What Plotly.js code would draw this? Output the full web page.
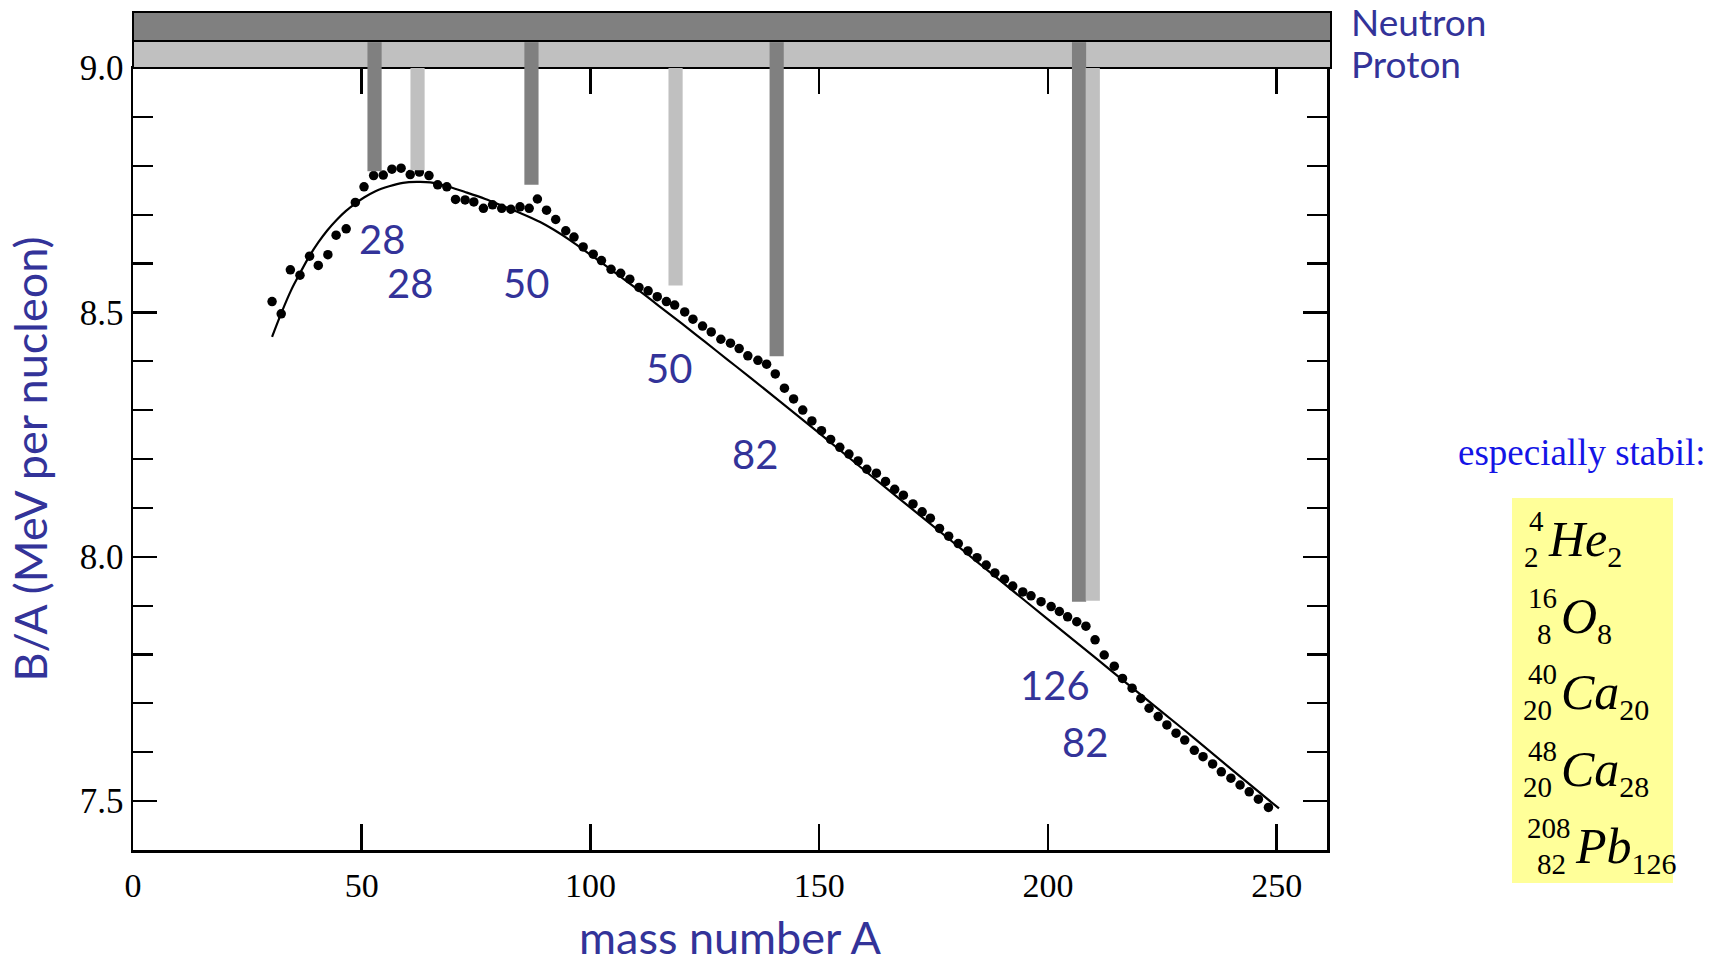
<!DOCTYPE html>
<html><head><meta charset="utf-8">
<script src="https://cdn.plot.ly/plotly-3.0.1.min.js"></script>
<style>html,body{margin:0;padding:0;background:#fff}#chart{width:1725px;height:964px}</style>
</head><body><div id="chart"></div>
<script>
// ---------------- data ----------------
const massNumber = [30.4,32.4,34.4,36.5,38.6,40.5,42.6,44.4,46.6,48.6,50.5,52.6,54.7,56.6,58.6,60.6,62.6,64.7,66.6,68.6,70.5,72.6,74.5,76.6,78.6,80.6,82.6,84.6,86.6,88.4,
  90.4,92.4,94.6,96.4,98.4,100.6,102.4,104.5,106.6,108.6,110.6,112.6,114.6,116.6,118.4,120.6,122.4,124.5,126.4,128.5,130.6,132.5,134.4,136.6,138.5,140.4,
  142.4,144.4,146.4,148.4,150.5,152.5,154.5,156.5,158.5,160.4,162.5,164.5,166.5,168.4,170.5,172.5,174.3,176.3,178.3,180.4,182.5,184.5,186.5,188.4,190.5,192.3,194.5,196.3,198.5,
  200.7,202.5,204.3,206.3,208.3,210.3,212.3,214.5,216.3,218.4,220.3,222.1,224.1,226.0,228.0,229.9,232.0,233.9,236.0,237.9,240.0,242.0,244.0,246.0,248.2];
const bindingPerNucleon = [8.522,8.497,8.587,8.576,8.615,8.596,8.618,8.658,8.671,8.725,8.757,8.780,8.781,8.793,8.795,8.782,8.787,8.780,8.761,8.757,8.731,8.730,8.726,8.713,8.720,8.713,8.711,8.716,8.713,8.732,
  8.709,8.690,8.667,8.654,8.634,8.619,8.606,8.588,8.580,8.568,8.551,8.544,8.532,8.522,8.515,8.501,8.486,8.472,8.460,8.445,8.437,8.426,8.411,8.402,8.394,8.374,
  8.345,8.323,8.300,8.278,8.258,8.240,8.224,8.210,8.196,8.179,8.171,8.154,8.138,8.126,8.108,8.092,8.079,8.058,8.042,8.027,8.012,7.998,7.983,7.967,7.954,7.940,7.928,7.920,7.908,
  7.898,7.888,7.877,7.867,7.858,7.830,7.799,7.776,7.751,7.731,7.710,7.690,7.673,7.656,7.639,7.625,7.604,7.591,7.576,7.560,7.547,7.533,7.519,7.504,7.487];

const fitMassNumber = [30.4,32.4,34.5,36.5,38.5,40.5,42.5,44.5,46.5,48.5,50.5,53,56,59,62,65,69,73,77,81,85,89,92,95.5,
  100,105,110,115,120,125,130,135,141.4,150,160,170,180,190,200,210,220,230,240,250.5];
const fitBindingPerNucleon = [8.450,8.498,8.544,8.580,8.614,8.643,8.668,8.689,8.707,8.722,8.735,8.748,8.758,8.765,8.767,8.766,8.757,8.745,8.732,8.717,8.702,8.685,8.669,8.648,
  8.618,8.584,8.549,8.513,8.477,8.440,8.403,8.366,8.318,8.253,8.176,8.100,8.024,7.948,7.872,7.796,7.720,7.644,7.566,7.485];

const neutronShellA = [52.8, 87.1, 140.7, 206.8];
const neutronShellBE = [8.789, 8.761, 8.410, 7.908];
const protonShellA = [62.2, 118.6, 209.8];
const protonShellBE = [8.791, 8.555, 7.910];

const magicNumberLabels = ['28','28','50','50','82','126','82'];
const magicLabelA = [54.5, 60.6, 85.9, 117.1, 135.9, 201.6, 208.2];
const magicLabelBE = [8.650, 8.560, 8.560, 8.386, 8.210, 7.737, 7.621];

const xTickValues = [0, 50, 100, 150, 200, 250];
const yTickValues = [7.5, 8.0, 8.5, 9.0];
const yTickLabels = ['7.5', '8.0', '8.5', '9.0'];

const nuclideElements = ['He', 'O', 'Ca', 'Ca', 'Pb'];
const nuclideMass = ['4', '16', '40', '48', '208'];
const nuclideProtons = ['2', '8', '20', '20', '82'];
const nuclideNeutrons = ['2', '8', '20', '28', '126'];

// ---------------- layout helpers ----------------
const W = 1725, H = 964;
const PL = 133, PR = 1327, PT = 68, PB = 850;
const px2x = px => (px - PL) / (PR - PL);
const px2y = py => (PB - py) / (PB - PT);
const BLUE = '#333399';
const DARK = '#808080', LIGHT = '#c0c0c0';
const barHalf = 1.55;
const bandMid = px2y(41), bandTop = px2y(12);

const shapes = [];
// Neutron / Proton bands
shapes.push({type:'rect', xref:'paper', yref:'paper', x0:0, x1:px2x(1331), y0:1, y1:bandMid,
  fillcolor:LIGHT, line:{color:'#000', width:2}, layer:'above'});
shapes.push({type:'rect', xref:'paper', yref:'paper', x0:0, x1:px2x(1331), y0:bandMid, y1:bandTop,
  fillcolor:DARK, line:{color:'#000', width:2}, layer:'above'});
// Shell closure bars
neutronShellA.forEach((a, i) => {
  shapes.push({type:'rect', xref:'x', yref:'y', x0:a-barHalf, x1:a+barHalf, y0:neutronShellBE[i], y1:9.0,
    fillcolor:DARK, line:{width:0}, layer:'above'});
  shapes.push({type:'rect', xref:'x', yref:'paper', x0:a-barHalf, x1:a+barHalf, y0:1, y1:bandMid-0.0015,
    fillcolor:DARK, line:{width:0}, layer:'above'});
});
protonShellA.forEach((a, i) => {
  shapes.push({type:'rect', xref:'x', yref:'y', x0:a-barHalf, x1:a+barHalf, y0:protonShellBE[i], y1:9.0,
    fillcolor:LIGHT, line:{width:0}, layer:'above'});
});
// yellow box
shapes.push({type:'rect', xref:'paper', yref:'paper', x0:px2x(1512), x1:px2x(1673), y0:px2y(883), y1:px2y(498),
  fillcolor:'#ffff99', line:{width:0}, layer:'below'});

const annotations = [];
magicNumberLabels.forEach((t, i) => {
  annotations.push({text:t, x:magicLabelA[i], y:magicLabelBE[i], xref:'x', yref:'y', showarrow:false,
    xanchor:'center', yanchor:'middle', font:{family:'Lato', size:40, color:BLUE}});
});
annotations.push({text:'Neutron', xref:'paper', yref:'paper', x:px2x(1349), y:px2y(22), showarrow:false,
  xanchor:'left', yanchor:'middle', font:{family:'Lato', size:37, color:BLUE}});
annotations.push({text:'Proton', xref:'paper', yref:'paper', x:px2x(1349), y:px2y(64), showarrow:false,
  xanchor:'left', yanchor:'middle', font:{family:'Lato', size:37, color:BLUE}});
annotations.push({text:'especially stabil:', xref:'paper', yref:'paper', x:px2x(1456), y:px2y(452), showarrow:false,
  xanchor:'left', yanchor:'middle', font:{family:'Liberation Serif', size:37, color:'#1414e6'}});

const rowCenters = [538, 615, 691, 768, 845];
nuclideElements.forEach((el, i) => {
  const digits = Math.max(nuclideMass[i].length, nuclideProtons[i].length);
  const idxRight = 1530 + 13.5 * digits;
  const yc = rowCenters[i];
  annotations.push({text:nuclideMass[i], xref:'paper', yref:'paper', x:px2x(idxRight + 2), y:px2y(yc-17), showarrow:false,
    xanchor:'right', yanchor:'middle', font:{family:'Liberation Serif', size:29, color:'#000'}});
  annotations.push({text:nuclideProtons[i], xref:'paper', yref:'paper', x:px2x(idxRight-3), y:px2y(yc+19), showarrow:false,
    xanchor:'right', yanchor:'middle', font:{family:'Liberation Serif', size:29, color:'#000'}});
  annotations.push({text:'<i>' + el + '</i><sub><span style="font-size:30px">' + nuclideNeutrons[i] + '</span></sub>',
    xref:'paper', yref:'paper',
    x:px2x(idxRight+2), y:px2y(yc+4), showarrow:false, xanchor:'left', yanchor:'middle',
    font:{family:'Liberation Serif', size:50, color:'#000'}});
});

const traces = [
  {x:fitMassNumber, y:fitBindingPerNucleon, type:'scatter', mode:'lines',
   line:{color:'#000', width:2.2, shape:'spline', smoothing:1}, hoverinfo:'skip', showlegend:false},
  {x:massNumber, y:bindingPerNucleon, type:'scatter', mode:'markers',
   marker:{color:'#000', size:9.5}, showlegend:false}
];

const layout = {
  width:W, height:H,
  margin:{l:PL, r:W-PR, t:PT, b:H-PB, pad:0},
  paper_bgcolor:'#fff', plot_bgcolor:'#fff',
  font:{family:'Liberation Serif', color:'#000'},
  showlegend:false,
  xaxis:{range:[0, 261], tickvals:xTickValues, ticks:'inside', ticklen:26, tickwidth:2.5, tickcolor:'#000',
    showline:true, linecolor:'#000', linewidth:2.5, mirror:'ticks', showgrid:false, zeroline:false,
    tickfont:{family:'Liberation Serif', size:34, color:'#000'}, ticklabelstandoff:4,
    title:{text:'mass number A', font:{family:'Lato', size:45, color:BLUE}, standoff:26}},
  yaxis:{range:[7.4, 9.0], tickvals:yTickValues, ticktext:yTickLabels, ticks:'inside', ticklen:24, tickwidth:2.5, tickcolor:'#000',
    minor:{dtick:0.1, tick0:0, ticks:'inside', ticklen:20, tickwidth:2.2, tickcolor:'#000'},
    showline:true, linecolor:'#000', linewidth:2.5, mirror:'ticks', showgrid:false, zeroline:false,
    tickfont:{family:'Liberation Serif', size:35, color:'#000'}, ticklabelstandoff:0,
    title:{text:'B/A (MeV per nucleon)', font:{family:'Lato', size:45, color:BLUE}, standoff:18}},
  shapes:shapes,
  annotations:annotations
};

Plotly.newPlot('chart', traces, layout, {staticPlot:true});
</script>
</body></html>
